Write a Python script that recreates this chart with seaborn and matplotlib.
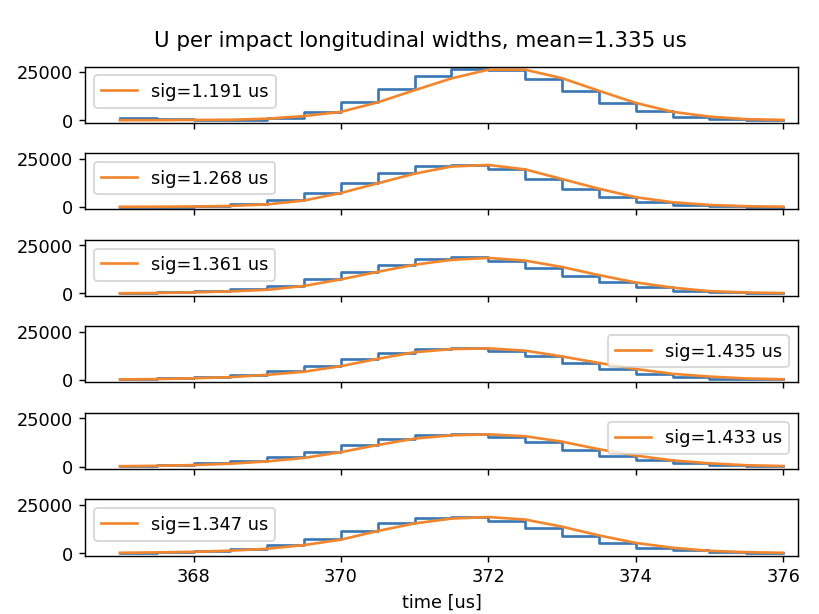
import seaborn as sns
import matplotlib.pyplot as plt
import numpy as np

# time axis of the impact profile [us]
times = [367.0, 367.5, 368.0, 368.5, 369.0, 369.5, 370.0, 370.5, 371.0, 371.5,
         372.0, 372.5, 373.0, 373.5, 374.0, 374.5, 375.0, 375.5, 376.0]

# measured counts (drawn as steps) per impact
counts_1 = [1000, 1000, 500, 200, 350, 1350, 4400, 9500, 16000, 22800,
            26500, 26100, 21500, 15100, 9000, 4600, 1900, 550, 100]
counts_2 = [50, 50, 150, 400, 1500, 3600, 7400, 12500, 17700, 21000,
            21900, 19700, 14200, 9400, 5200, 2700, 1000, 300, 100]
counts_3 = [300, 300, 600, 1300, 2300, 4000, 7400, 11000, 14900, 18000,
            18700, 16700, 13200, 9000, 5700, 3200, 1300, 500, 200]
counts_4 = [300, 300, 800, 1600, 2800, 4700, 7300, 10700, 13900, 16000,
            16400, 15000, 12200, 8850, 5700, 3200, 1500, 600, 300]
counts_5 = [300, 300, 800, 1700, 2700, 5000, 7800, 11200, 14200, 16200,
            16700, 15400, 12500, 8700, 5300, 3200, 1800, 700, 300]
counts_6 = [300, 300, 700, 1200, 2300, 4000, 7300, 11500, 15700, 18200,
            18700, 16700, 12900, 8700, 5300, 2800, 1500, 500, 200]

# gaussian fit curves per impact
fit_1 = [50, 100, 200, 300, 850, 2200, 4400, 9300, 15600, 21700,
         26200, 26200, 21800, 15300, 9000, 4400, 1900, 600, 200]
fit_2 = [50, 100, 200, 500, 1300, 3300, 7200, 12200, 17200, 20900,
         21700, 19400, 14400, 9400, 5000, 2400, 1000, 350, 100]
fit_3 = [100, 250, 550, 1100, 1900, 3900, 7300, 11200, 14900, 17400,
         18400, 17000, 13700, 9500, 5700, 3000, 1200, 500, 200]
fit_4 = [300, 500, 900, 1500, 2700, 4300, 7200, 11000, 14400, 16000,
         16400, 15200, 12200, 8850, 5700, 3200, 1800, 800, 400]
fit_5 = [200, 400, 800, 1500, 2700, 4500, 7500, 11200, 14500, 16200,
         16700, 15700, 12900, 9000, 5700, 3200, 1700, 700, 300]
fit_6 = [200, 400, 700, 1300, 2300, 4200, 7000, 11500, 15400, 17900,
         18700, 17400, 13700, 9200, 5300, 2800, 1200, 500, 200]

sigmas = ["1.191", "1.268", "1.361", "1.435", "1.433", "1.347"]
mean_sigma = "1.335"

counts = [counts_1, counts_2, counts_3, counts_4, counts_5, counts_6]
fits = [fit_1, fit_2, fit_3, fit_4, fit_5, fit_6]
legend_locs = ["upper left", "upper left", "upper left",
               "upper right", "upper right", "upper left"]

fig, axes = plt.subplots(6, 1, figsize=(6.4, 4.8), sharex=True, sharey=True)

for ax, cnt, fit, sig, loc in zip(axes, counts, fits, sigmas, legend_locs):
    # histogram-like steps and the fitted curve on top
    sns.lineplot(x=times, y=cnt, ax=ax, color="#3a77b3",
                 drawstyle="steps-pre", linewidth=1.5)
    sns.lineplot(x=times, y=fit, ax=ax, color="#f2862e", linewidth=1.5,
                 label=f"sig={sig} us")
    ax.set_yticks([0, 25000])
    ax.set_ylabel("")
    ax.legend(loc=loc)

axes[-1].set_xlim(366.53, 376.2)
axes[-1].set_xticks([368, 370, 372, 374, 376])
axes[-1].set_xlabel("time [us]")

fig.suptitle(f"U per impact longitudinal widths, mean={mean_sigma} us",
             x=0.513, y=0.950, va="top")
fig.subplots_adjust(left=0.104, right=0.974, top=0.891, bottom=0.095,
                    hspace=0.54)

plt.savefig("out.png", dpi=128)
